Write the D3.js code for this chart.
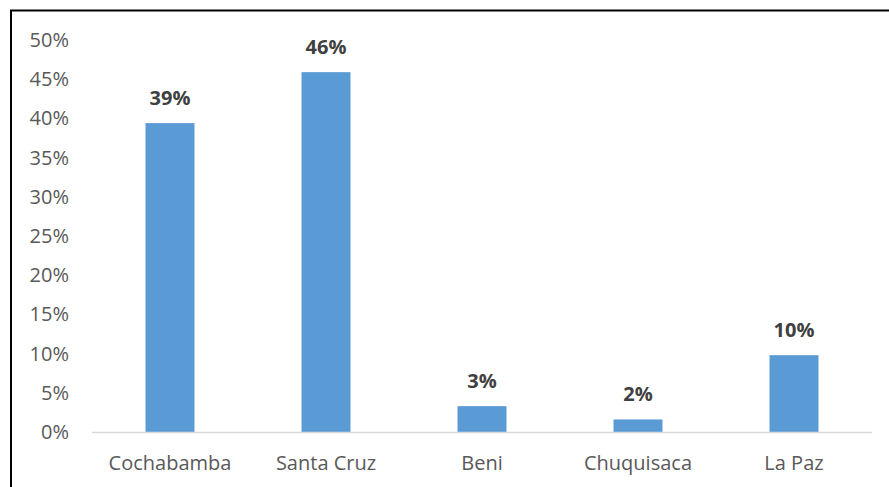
<!DOCTYPE html>
<html><head><meta charset="utf-8">
<script src="https://cdn.jsdelivr.net/npm/d3@7"></script>
<style>body{margin:0;background:#fff;}svg{display:block;}</style>
</head><body>
<svg id="c" width="889" height="487"></svg>
<script>
const categories = ["Cochabamba","Santa Cruz","Beni","Chuquisaca","La Paz"];
const values = [0.394, 0.459, 0.033, 0.016, 0.098];
const labels = ["39%","46%","3%","2%","10%"];
const yTicks = [0,0.05,0.10,0.15,0.20,0.25,0.30,0.35,0.40,0.45,0.50];

const svg = d3.select("#c");
const font = "'Open Sans', sans-serif";
svg.append("path").attr("d","M11,487 L11,10.5 L889,10.5").attr("fill","none").attr("stroke","#000").attr("stroke-width",2);

const x = d3.scaleBand().domain(categories).range([92,872]).paddingInner(0.686).paddingOuter(0.343);
const y = d3.scaleLinear().domain([0,0.5]).range([432,40]);

svg.selectAll("rect.bar").data(values).join("rect")
  .attr("x",(d,i)=>x(categories[i])).attr("width",x.bandwidth())
  .attr("y",d=>y(d)).attr("height",d=>y(0)-y(d)).attr("fill","#5B9BD5");

svg.append("line").attr("x1",92).attr("x2",872).attr("y1",432.5).attr("y2",432.5).attr("stroke","#D9D9D9").attr("stroke-width",1.5);

const ya = svg.append("g").attr("transform","translate(69,0)")
  .call(d3.axisLeft(y).tickValues(yTicks).tickFormat(d3.format(".0%")).tickSize(0).tickPadding(0));
ya.select(".domain").remove();
ya.selectAll("text").attr("font-family",font).attr("font-size",20).attr("fill","#595959");

const xa = svg.append("g").attr("transform","translate(0,432)")
  .call(d3.axisBottom(x).tickSize(0).tickPadding(24));
xa.select(".domain").remove();
xa.selectAll("text").attr("font-family",font).attr("font-size",20).attr("fill","#595959");

svg.selectAll("text.lbl").data(values).join("text")
  .attr("x",(d,i)=>x(categories[i])+x.bandwidth()/2).attr("y",d=>y(d)-18)
  .attr("text-anchor","middle").attr("font-family",font).attr("font-size",20).attr("font-weight","bold").attr("fill","#404040")
  .text((d,i)=>labels[i]);
</script>
</body></html>
